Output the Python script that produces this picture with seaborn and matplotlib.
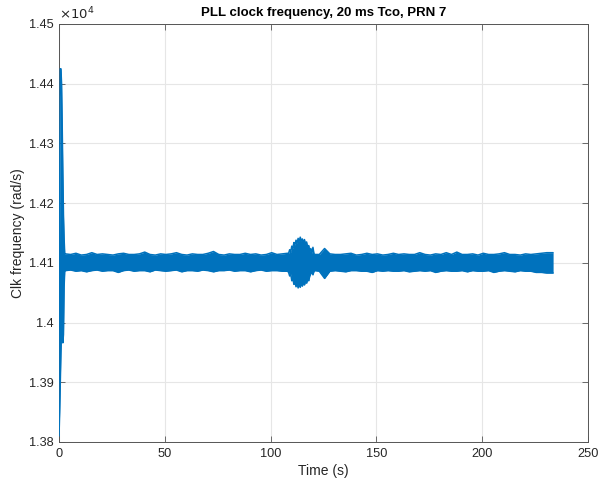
import matplotlib
matplotlib.use("Agg")
import matplotlib.pyplot as plt
from matplotlib.ticker import FixedLocator, FuncFormatter
import pandas as pd
import seaborn as sns

# Envelope of the PLL clock-frequency trace (rad/s) versus time (s).
# Start-up transient
t_transient = [0.0, 0.3, 0.6, 0.9, 1.2, 1.5, 1.8, 2.1, 2.4, 2.7]
hi_transient = [13900, 14200, 14425, 14425, 14400, 14330, 14250, 14180, 14140, 14115]
lo_transient = [13810, 13850, 13900, 13950, 13990, 14000, 13966, 13980, 14060, 14087]

# Steady tracking before the disturbance
t_steady1 = [3, 5.5, 8, 10.5, 13, 15.5, 18, 20.5, 23, 25.5, 28, 30.5, 33, 35.5, 38,
             40.5, 43, 45.5, 48, 50.5, 53, 55.5, 58, 60.5, 63, 65.5, 68, 70.5, 73,
             75.5, 78, 80.5, 83, 85.5, 88, 90.5, 93, 95.5, 98, 100.5, 103, 105.5, 108]
hi_steady1 = [14115, 14114, 14116, 14113, 14114, 14117, 14114, 14115, 14114, 14113,
              14115, 14116, 14114, 14114, 14115, 14118, 14114, 14113, 14115, 14114,
              14115, 14117, 14114, 14113, 14115, 14114, 14114, 14116, 14119, 14114,
              14113, 14115, 14114, 14114, 14116, 14114, 14115, 14113, 14114, 14117,
              14114, 14115, 14116]
lo_steady1 = [14087, 14088, 14086, 14087, 14085, 14087, 14088, 14086, 14087, 14087,
              14084, 14087, 14088, 14086, 14087, 14087, 14085, 14088, 14087, 14086,
              14087, 14088, 14085, 14087, 14087, 14086, 14088, 14087, 14085, 14087,
              14087, 14088, 14086, 14087, 14087, 14085, 14087, 14088, 14086, 14087,
              14087, 14086, 14086]

# Disturbance around 110-120 s
t_disturb = [108.5, 109, 109.5, 110, 110.5, 111, 111.5, 112, 112.5, 113, 113.5, 114,
             114.5, 115, 115.5, 116, 116.5, 117, 117.5, 118, 118.5, 119, 119.5, 120,
             120.5, 121]
hi_disturb = [14116, 14122, 14118, 14128, 14124, 14134, 14130, 14138, 14133, 14141,
              14136, 14143, 14137, 14140, 14134, 14139, 14131, 14135, 14126, 14129,
              14120, 14124, 14116, 14126, 14115, 14114]
lo_disturb = [14084, 14078, 14082, 14070, 14074, 14064, 14068, 14060, 14066, 14058,
              14064, 14059, 14066, 14061, 14067, 14063, 14069, 14066, 14072, 14070,
              14078, 14082, 14085, 14080, 14086, 14087]

# Steady tracking after the disturbance
t_steady2 = [123, 125.5, 128, 130.5, 133, 135.5, 138, 140.5, 143, 145.5, 148, 150.5,
             153, 155.5, 158, 160.5, 163, 165.5, 168, 170.5, 173, 175.5, 178, 180.5,
             183, 185.5, 188, 190.5, 193, 195.5, 198, 200.5, 203, 205.5, 208, 210.5,
             213, 215.5, 218, 220.5, 223, 225.5, 228, 230.5, 233.5]
hi_steady2 = [14114, 14124, 14115, 14114, 14114, 14115, 14116, 14113, 14114, 14116,
              14114, 14115, 14113, 14114, 14116, 14114, 14115, 14114, 14114, 14117,
              14114, 14113, 14115, 14114, 14117, 14114, 14118, 14114, 14114, 14115,
              14113, 14116, 14114, 14114, 14115, 14117, 14114, 14114, 14113, 14115,
              14114, 14115, 14116, 14117, 14117]
lo_steady2 = [14086, 14074, 14086, 14087, 14086, 14085, 14087, 14087, 14086, 14086,
              14084, 14087, 14086, 14087, 14086, 14086, 14087, 14085, 14086, 14087,
              14086, 14087, 14084, 14086, 14087, 14086, 14086, 14087, 14085, 14087,
              14086, 14086, 14087, 14084, 14086, 14087, 14086, 14085, 14087, 14086,
              14086, 14084, 14084, 14083, 14083]

x_ticks = [0, 50, 100, 150, 200, 250]
y_ticks = [13800, 13900, 14000, 14100, 14200, 14300, 14400, 14500]
y_tick_labels = ["1.38", "1.39", "1.4", "1.41", "1.42", "1.43", "1.44", "1.45"]

env = pd.DataFrame({
    "time": t_transient + t_steady1 + t_disturb + t_steady2,
    "upper": hi_transient + hi_steady1 + hi_disturb + hi_steady2,
    "lower": lo_transient + lo_steady1 + lo_disturb + lo_steady2,
})

sns.set_style("whitegrid")
plt.rcParams["font.family"] = ["Liberation Sans", "DejaVu Sans"]

blue = "#0072BD"
fig = plt.figure(figsize=(5.98, 4.80), dpi=100)
ax = fig.add_axes([0.0987, 0.0792, 0.8846, 0.8708])

ax.fill_between(env["time"], env["lower"], env["upper"], color=blue,
                linewidth=0, zorder=3)
sns.lineplot(data=env, x="time", y="upper", ax=ax, color=blue, linewidth=1.1,
             sort=False, zorder=3)
sns.lineplot(data=env, x="time", y="lower", ax=ax, color=blue, linewidth=1.1,
             sort=False, zorder=3)

ax.set_xlim(0, 250)
ax.set_ylim(13800, 14500)
ax.xaxis.set_major_locator(FixedLocator(x_ticks))
ax.yaxis.set_major_locator(FixedLocator(y_ticks))
ax.yaxis.set_major_formatter(FuncFormatter(
    lambda v, p: y_tick_labels[y_ticks.index(int(round(v)))]
    if int(round(v)) in y_ticks else ""))

ax.grid(True, color="#e6e6e6", linewidth=0.8)
ax.set_axisbelow(True)
for s in ax.spines.values():
    s.set_visible(True)
    s.set_color("#555555")
    s.set_linewidth(0.7)
ax.tick_params(direction="in", length=4, width=0.6, colors="#555555",
               labelcolor="#262626", labelsize=9.2, top=True, right=True,
               left=True, bottom=True, pad=4)

ax.set_xlabel("Time (s)", fontsize=10, color="#262626", labelpad=3)
ax.set_ylabel("Clk frequency (rad/s)", fontsize=10, color="#262626", labelpad=3)
ax.set_title("PLL clock frequency, 20 ms Tco, PRN 7", fontsize=9.5,
             fontweight="bold", color="#000000", pad=6)
ax.text(0.0, 1.004, r"$\times10^{4}$", transform=ax.transAxes, fontsize=9.5,
        color="#262626", ha="left", va="bottom")

fig.savefig("out.png", dpi=100)
